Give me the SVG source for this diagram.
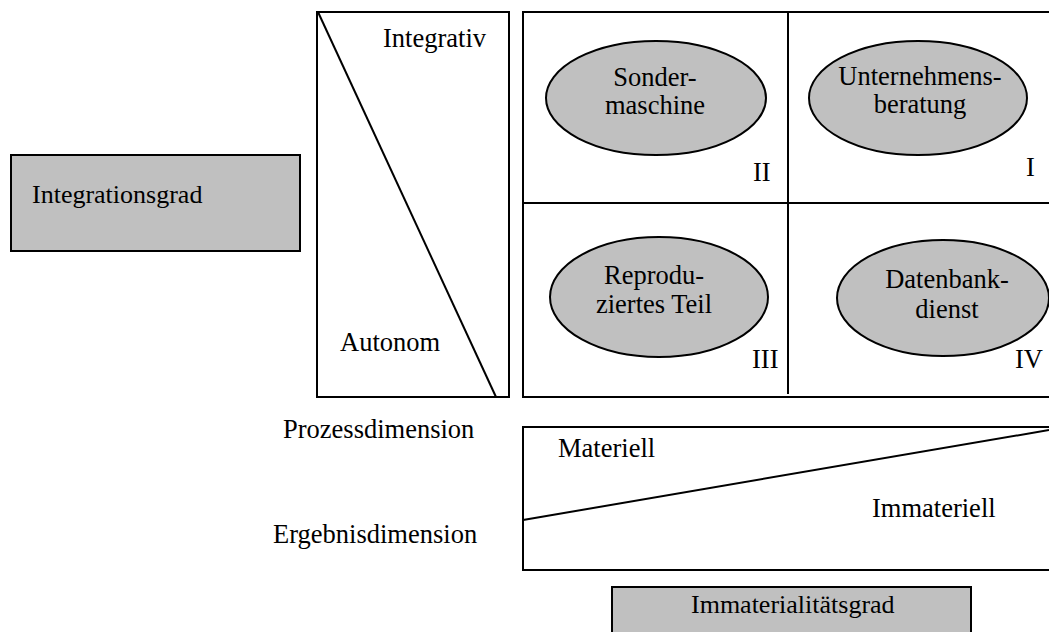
<svg xmlns="http://www.w3.org/2000/svg" width="1049" height="632" viewBox="0 0 1049 632">
<style>
text{font-family:"Liberation Serif","Times New Roman",serif;font-size:26.5px;fill:#000}
.c{text-anchor:middle}
.box{fill:#fff;stroke:#000;stroke-width:2}
.gray{fill:#c0c0c0;stroke:#000;stroke-width:2}
.ln{stroke:#000;stroke-width:2;fill:none}
</style>
<rect width="1049" height="632" fill="#fff"/>
<g id="integrationsgrad">
<rect class="gray" x="11" y="155" width="289" height="96"/>
<text x="32" y="203" style="font-size:26px">Integrationsgrad</text>
</g>
<g id="integration-scale">
<rect class="box" x="317" y="12" width="192" height="385"/>
<line class="ln" x1="318" y1="12" x2="496" y2="397"/>
<text x="383" y="47">Integrativ</text>
<text x="340" y="351">Autonom</text>
</g>
<g id="matrix">
<rect class="box" x="523" y="12" width="540" height="385"/>
<line class="ln" x1="788" y1="12" x2="788" y2="394"/>
<line class="ln" x1="523" y1="203" x2="1049" y2="203"/>
</g>
<g id="sondermaschine">
<ellipse class="gray" cx="656" cy="98" rx="110" ry="57"/>
<text class="c" x="655" y="86">Sonder-</text>
<text class="c" x="655" y="114">maschine</text>
<text x="753" y="181">II</text>
</g>
<g id="unternehmensberatung">
<ellipse class="gray" cx="918" cy="98" rx="109" ry="57"/>
<text class="c" x="920" y="85">Unternehmens-</text>
<text class="c" x="920" y="113">beratung</text>
<text x="1026" y="176">I</text>
</g>
<g id="reproduziertes-teil">
<ellipse class="gray" cx="659" cy="297" rx="109" ry="60"/>
<text class="c" x="654" y="284">Reprodu-</text>
<text class="c" x="654" y="313">ziertes Teil</text>
<text x="752" y="368">III</text>
</g>
<g id="datenbankdienst">
<ellipse class="gray" cx="943" cy="298" rx="106" ry="58"/>
<text class="c" x="947" y="288">Datenbank-</text>
<text class="c" x="947" y="318">dienst</text>
<text x="1015" y="368">IV</text>
</g>
<g id="dimension-labels">
<text x="283" y="438">Prozessdimension</text>
<text x="273" y="543">Ergebnisdimension</text>
</g>
<g id="immaterial-scale">
<rect class="box" x="523" y="427" width="540" height="143"/>
<line class="ln" x1="523" y1="520" x2="1049" y2="430"/>
<text x="558" y="457">Materiell</text>
<text x="872" y="517">Immateriell</text>
</g>
<g id="immaterialitaetsgrad">
<rect class="gray" x="612" y="587" width="359" height="60"/>
<text x="691" y="613" style="font-size:26px">Immaterialitätsgrad</text>
</g>
<g id="connectors"></g>
</svg>
